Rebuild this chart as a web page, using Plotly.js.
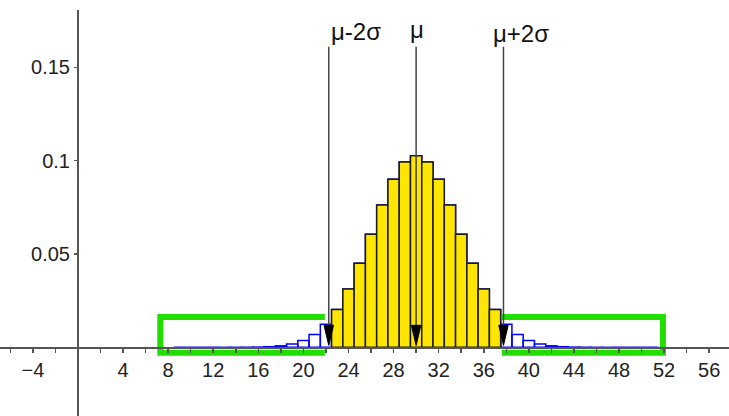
<!DOCTYPE html>
<html>
<head>
<meta charset="utf-8">
<script src="https://cdn.plot.ly/plotly-3.0.1.min.js"></script>
<style>html,body{margin:0;padding:0;background:#fff}#chart{width:729px;height:416px}</style>
</head>
<body>
<div id="chart"></div>
<script>
// Binomial distribution values (n = 60, p = 0.5)
const kValues = [9,10,11,12,13,14,15,16,17,18,19,20,21,22,23,24,25,26,27,28,29,30,31,32,33,34,35,36,37,38,39,40,41,42,43,44,45,46,47,48,49,50,51];
const probValues = [0,0,0,0,0.00001,0.000015,0.000046,0.00013,0.00034,0.0008,0.0018,0.0036,0.0069,0.0123,0.0203,0.0313,0.0450,0.0606,0.0763,0.0900,0.0993,0.1026,0.0993,0.0900,0.0763,0.0606,0.0450,0.0313,0.0203,0.0123,0.0069,0.0036,0.0018,0.0008,0.00034,0.00013,0.000046,0.000015,0.00001,0,0,0,0];
// highlighted range: within mu +/- 2 sigma
const highlightK = [23,24,25,26,27,28,29,30,31,32,33,34,35,36,37];
// reference lines
const markerLabels = ['μ-2σ', 'μ', 'μ+2σ'];
const markerX = [22.25, 30, 37.75];
// axis ticks
const xTickVals = [-6,-4,-2,0,2,4,6,8,10,12,14,16,18,20,22,24,26,28,30,32,34,36,38,40,42,44,46,48,50,52,54,56];
const xTickLabels = ['','−4','','','','4','','8','','12','','16','','20','','24','','28','','32','','36','','40','','44','','48','','52','','56'];
const yTickVals = [0.05, 0.1, 0.15];
const yTickLabels = ['0.05', '0.1', '0.15'];
// green bracket extents (x) and levels (y)
const leftBracketX = [7.3, 21.9];
const rightBracketX = [37.6, 51.9];
const bracketY = [0.0162, -0.0029];

const highlightP = highlightK.map(k => probValues[kValues.indexOf(k)]);

const xRange = [-6.92, 57.76];
const yRange = [-0.0368, 0.1861];
const xAxisPos = (0 - yRange[0]) / (yRange[1] - yRange[0]);
const yAxisPos = (0 - xRange[0]) / (xRange[1] - xRange[0]);

const font = 'Liberation Sans, Arial, sans-serif';
const green = '#22dd00';

const traces = [
  {type:'bar', x:kValues, y:probValues, width:1, marker:{color:'rgba(255,255,255,0)', line:{color:'#0000ff', width:1.5}}, hoverinfo:'skip'},
  {type:'bar', x:highlightK, y:highlightP, width:1, marker:{color:'#ffe600', line:{color:'#1a1a1a', width:1.5}}, hoverinfo:'skip'},
  {type:'scatter', mode:'lines', x:[leftBracketX[1], leftBracketX[0], leftBracketX[0], leftBracketX[1]], y:[bracketY[0], bracketY[0], bracketY[1], bracketY[1]], line:{color:green, width:6}, hoverinfo:'skip'},
  {type:'scatter', mode:'lines', x:[rightBracketX[0], rightBracketX[1], rightBracketX[1], rightBracketX[0]], y:[bracketY[0], bracketY[0], bracketY[1], bracketY[1]], line:{color:green, width:6}, hoverinfo:'skip'}
];

const lineTop = 0.161;
const headHalfW = 0.42, headLen = 0.0108, tipY = 0.001;
const shapes = [
  {type:'line', xref:'x', yref:'y', x0:0, x1:0, y0:yRange[0], y1:0.1808, line:{color:'#555', width:2}}
];
markerX.forEach(x => {
  shapes.push({type:'line', xref:'x', yref:'y', x0:x, x1:x, y0:lineTop, y1:tipY+headLen/2, line:{color:'#444', width:1.5}});
  shapes.push({type:'path', xref:'x', yref:'y', path:`M ${x-headHalfW} ${tipY+headLen} L ${x+headHalfW} ${tipY+headLen} L ${x} ${tipY} Z`, fillcolor:'#000', line:{color:'#000', width:1}});
});

const labelDX = [2.4, 0.08, 1.55];
const labelY = [0.1694, 0.1705, 0.1684];
const annotations = markerLabels.map((t, i) => ({
  text:t, x:markerX[i] + labelDX[i], y:labelY[i], xref:'x', yref:'y', showarrow:false,
  xanchor:'center', yanchor:'middle', font:{family:font, size:24, color:'#111'}
}));

const layout = {
  width:729, height:416, margin:{l:0, r:0, t:0, b:0},
  paper_bgcolor:'#fff', plot_bgcolor:'#fff',
  showlegend:false, barmode:'overlay', bargap:0,
  xaxis:{range:xRange, showgrid:false, zeroline:false, showline:true, linecolor:'#555', linewidth:1.5,
    anchor:'free', position:xAxisPos, ticks:'outside', ticklen:4, tickwidth:1.5, tickcolor:'#555',
    tickmode:'array', tickvals:xTickVals, ticktext:xTickLabels, tickfont:{family:font, size:20, color:'#222'}},
  yaxis:{range:yRange, showgrid:false, zeroline:false, showline:false,
    anchor:'free', position:yAxisPos, ticks:'outside', ticklen:4, tickwidth:1.5, tickcolor:'#555',
    tickmode:'array', tickvals:yTickVals, ticktext:yTickLabels, tickfont:{family:font, size:20, color:'#222'}},
  shapes:shapes, annotations:annotations
};

Plotly.newPlot('chart', traces, layout, {displayModeBar:false, staticPlot:true});
</script>
</body>
</html>
